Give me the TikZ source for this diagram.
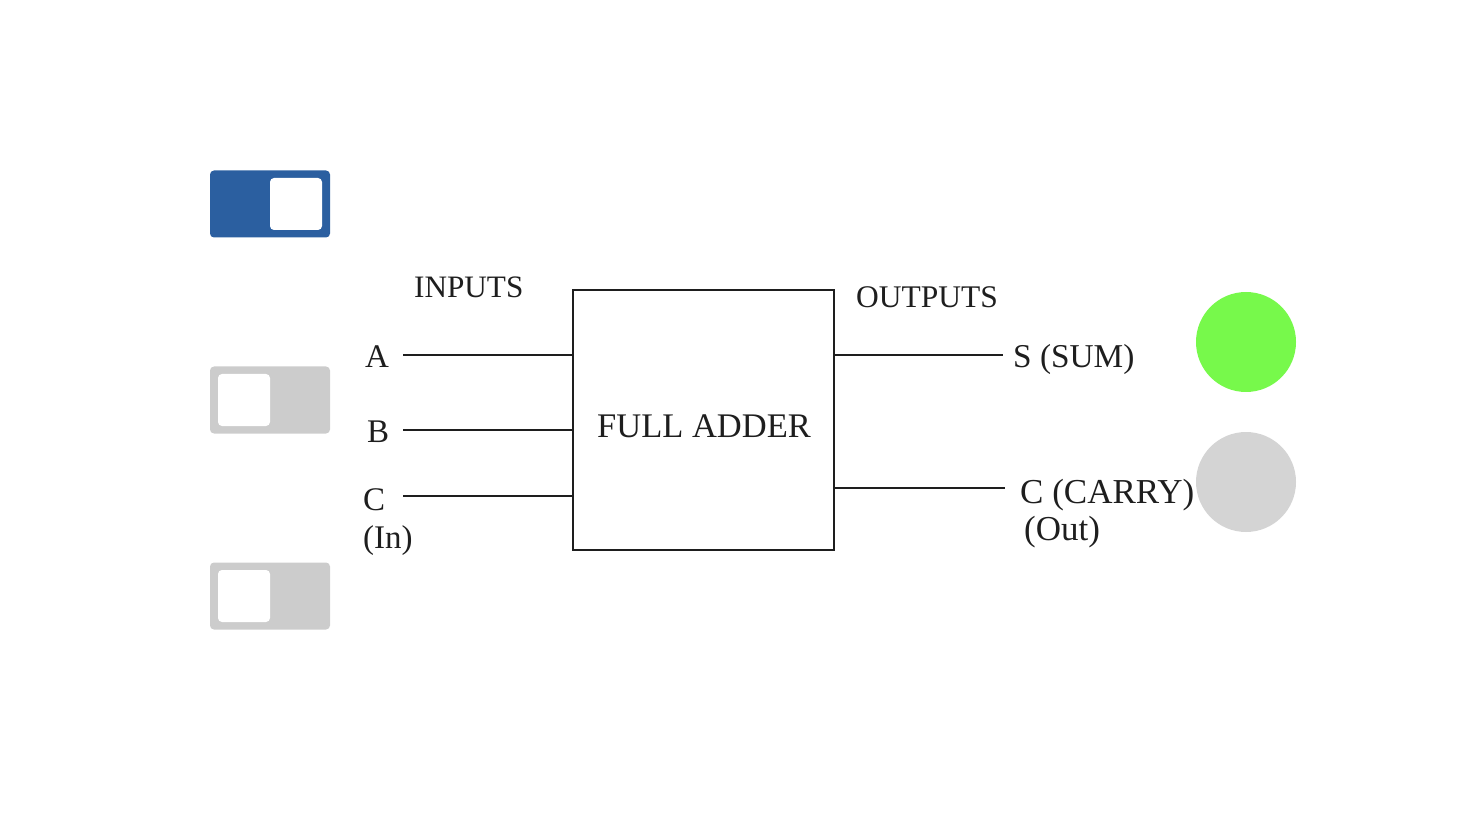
\documentclass[tikz,border=0pt]{standalone}
\usepackage{fontspec}
\setmainfont{Liberation Serif}
\definecolor{togblue}{HTML}{2B5FA0}
\definecolor{toggray}{HTML}{CCCCCC}
\definecolor{lampon}{HTML}{77F94B}
\definecolor{lampoff}{HTML}{D4D4D4}
\definecolor{ink}{HTML}{1E1E1E}
\tikzset{
  lbl/.style={anchor=base west, inner sep=0pt, text=ink, font=\fontsize{33}{39}\selectfont},
  wire/.style={draw=ink, line width=2.4pt},
  togbody/.style={rounded corners=4pt, minimum width=120pt, minimum height=67pt, inner sep=0pt},
  togknob/.style={fill=white, rounded corners=4pt, minimum width=52pt, minimum height=52pt, inner sep=0pt},
  lamp/.style={circle, minimum size=100pt, inner sep=0pt}
}
\begin{document}
\begin{tikzpicture}[x=1pt,y=-1pt]
\useasboundingbox (0,0) rectangle (1476,818);
% toggles
\node[togbody, fill=togblue] (t1) at (270,204) {};
\node[togknob] (k1) at (296,204) {};
\node[togbody, fill=toggray] (t2) at (270,400) {};
\node[togknob] (k2) at (244,400) {};
\node[togbody, fill=toggray] (t3) at (270,596) {};
\node[togknob] (k3) at (244,596) {};
% lamps
\node[lamp, fill=lampon] (l1) at (1246,342) {};
\node[lamp, fill=lampoff] (l2) at (1246,482) {};
% full adder box
\node[draw=ink, line width=2.4pt, minimum width=261pt, minimum height=260pt, inner sep=0pt] (fa) at (703.5,420) {};
\node[lbl, font=\fontsize{34.5}{40}\selectfont] (fat) at (597,437) {FULL ADDER};
% labels
\node[lbl, font=\fontsize{31.2}{37}\selectfont] (inp) at (414,298) {INPUTS};
\node[lbl, font=\fontsize{31.5}{37}\selectfont] (outp) at (856,308) {OUTPUTS};
\node[lbl] (la) at (365,367) {A};
\node[lbl] (lb) at (367,442) {B};
\node[lbl] (lc) at (363,510) {C};
\node[lbl] (lin) at (363,548) {(In)};
\node[lbl, font=\fontsize{33.3}{39}\selectfont] (ls) at (1013,367) {S (SUM)};
\node[lbl, font=\fontsize{35}{41}\selectfont] (lcy) at (1020,503) {C (CARRY)};
\node[lbl, font=\fontsize{35}{41}\selectfont] (lout) at (1024,540) {(Out)};
% wire ends
\coordinate (a0) at (403,355);
\coordinate (b0) at (403,430);
\coordinate (c0) at (403,496);
\coordinate (s0) at (1003,355);
\coordinate (co0) at (1005,488);
\draw[wire] (a0) -- (a0 -| fa.west);
\draw[wire] (b0) -- (b0 -| fa.west);
\draw[wire] (c0) -- (c0 -| fa.west);
\draw[wire] (s0 -| fa.east) -- (s0);
\draw[wire] (co0 -| fa.east) -- (co0);
\end{tikzpicture}
\end{document}
